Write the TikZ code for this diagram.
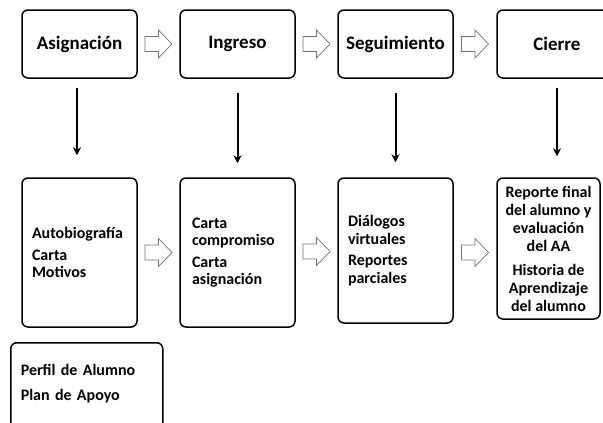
\documentclass[tikz,border=0pt]{standalone}
\usepackage{fontspec}
\setmainfont{Carlito}
\usetikzlibrary{arrows.meta,calc}
\begin{document}
\begin{tikzpicture}[x=1pt,y=-1pt,
  box/.style={draw=black, line width=1.5pt, rounded corners=6pt, inner sep=0pt,
    font=\bfseries\fontsize{16}{17.5}\selectfont},
  topbox/.style={box, minimum width=115pt, minimum height=68pt,
    font=\bfseries\fontsize{19}{21}\selectfont},
  lowbox/.style={box, minimum width=115pt, align=left},
  darrow/.style={line width=2pt, -{Stealth[length=8pt,width=8pt]}},
  bigarrow/.pic={\draw[draw=gray!90!black, line width=0.7pt, fill=white]
     (-13.5,-7.5) -- (0,-7.5) -- (0,-14) -- (13.5,0) -- (0,14) -- (0,7.5) -- (-13.5,7.5) -- cycle;}
]
\useasboundingbox (0,0) rectangle (603,423);
\clip (0,0) rectangle (603,423);

% top row
\node[topbox] (a1) at (79.5,44) {Asignación};
\node[topbox] (a2) at (237.5,44) {Ingreso};
\node[topbox] (a3) at (395.5,44) {Seguimiento};
\node[topbox, minimum width=120pt] (a4) at (557,44) {Cierre};

% bottom row
\node[lowbox, minimum height=149pt, text width=95pt] (b1) at (79.5,252.5)
  {Autobiografía\\[4pt]Carta\\Motivos};
\node[lowbox, minimum height=149pt, text width=91pt] (b2) at (237.5,252.5)
  {Carta\\compromiso\\[4pt]Carta\\asignación};
\node[lowbox, minimum height=145pt, text width=95pt] (b3) at (395.5,250.5)
  {Diálogos\\virtuales\\[4pt]Reportes\\parciales};
\node[box, minimum width=103pt, minimum height=141pt, align=center,
      font=\bfseries\fontsize{16}{18}\selectfont] (b4) at (548.5,248.5)
  {Reporte final\\del alumno y\\evaluación\\del AA\\[6pt]Historia de\\Aprendizaje\\del alumno};

\node[box, anchor=north west, minimum width=152pt, text width=132pt, align=left,
      inner xsep=10pt, inner ysep=21pt, text depth=50pt] (c) at (10,342)
  {Perfil de Alumno\\[8pt]Plan de Apoyo};

% block arrows
\pic at ($(a1.east)!0.5!(a2.west)$) {bigarrow};
\pic at ($(a2.east)!0.5!(a3.west)$) {bigarrow};
\pic at ($(a3.east)!0.5!(a4.west)$) {bigarrow};
\coordinate (m1) at ($(b1.east)!0.5!(b2.west)$);
\coordinate (m2) at ($(b2.east)!0.5!(b3.west)$);
\coordinate (m3) at ($(b3.east)!0.5!(b4.west)$);
\pic at (m1) {bigarrow};
\pic at (m2) {bigarrow};
\pic at (m3 |- m1) {bigarrow};

% down arrows
\draw[darrow, shorten <=9pt, shorten >=22pt] ([xshift=-2.5pt]a1.south) -- ([xshift=-2.5pt]b1.north);
\draw[darrow, shorten <=14pt, shorten >=14pt] (a2.south) -- (b2.north);
\draw[darrow, shorten <=14pt, shorten >=15pt] (a3.south) -- (b3.north);
\draw[darrow, shorten <=9pt, shorten >=21pt] (a4.south) -- (a4.south |- b4.north);
\end{tikzpicture}
\end{document}
